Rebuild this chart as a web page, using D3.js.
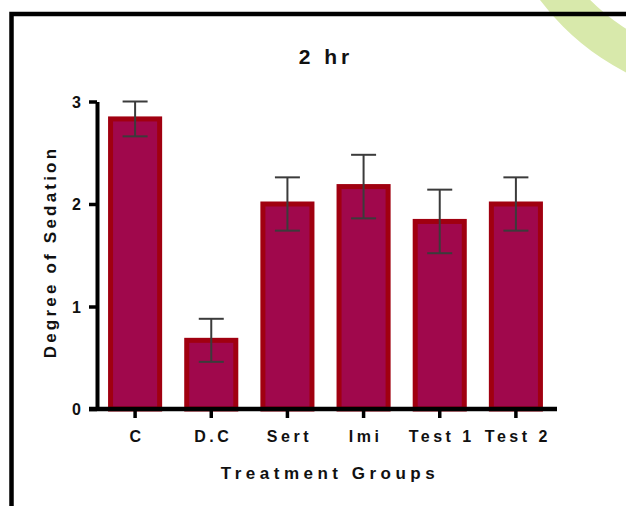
<!DOCTYPE html>
<html>
<head>
<meta charset="utf-8">
<script src="https://cdn.jsdelivr.net/npm/d3@7"></script>
<style>
  html, body { margin: 0; padding: 0; background: #fff; }
  svg { display: block; }
  text { font-family: "Liberation Sans", Arial, Helvetica, sans-serif; font-weight: bold; fill: #111; }
</style>
</head>
<body>
<svg id="chart" width="626" height="506"></svg>
<script>
// Sedation scores (mean ± SEM) two hours after dosing
const groups = ["C", "D.C", "Sert", "Imi", "Test 1", "Test 2"];
const means  = [2.83, 0.67, 2.00, 2.17, 1.83, 2.00];
const errors = [0.17, 0.21, 0.26, 0.31, 0.31, 0.26];
const yTicks = [0, 1, 2, 3];

const svg = d3.select("#chart");

// faint logo arc in the top-right corner
const arc = d3.arc()
  .innerRadius(212).outerRadius(250)
  .startAngle(-Math.PI).endAngle(-Math.PI / 2);
svg.append("path")
  .attr("d", arc())
  .attr("transform", "translate(740,-150)")
  .attr("fill", "#d8e9ab");

// frame around the figure (open on the right and bottom)
svg.append("path")
  .attr("d", "M11.5,506 V14 H626")
  .attr("fill", "none")
  .attr("stroke", "#000")
  .attr("stroke-width", 4.5);

const x = d3.scaleBand()
  .domain(groups)
  .range([95.5, 555.5])
  .paddingInner(0.29)
  .paddingOuter(0.165);

const y = d3.scaleLinear()
  .domain([0, 3])
  .range([409, 101.5]);

// bars
svg.append("g").selectAll("rect")
  .data(groups)
  .join("rect")
  .attr("x", d => x(d) + 2.5)
  .attr("width", x.bandwidth() - 5)
  .attr("y", (d, i) => y(means[i]))
  .attr("height", (d, i) => y(0) - y(means[i]))
  .attr("fill", "#a0084c")
  .attr("stroke", "#a00010")
  .attr("stroke-width", 5);

// error bars
const eb = svg.append("g")
  .attr("stroke", "#3b3b3b")
  .attr("stroke-width", 2)
  .attr("fill", "none");
groups.forEach((g, i) => {
  const cx = x(g) + x.bandwidth() / 2;
  const top = y(means[i] + errors[i]);
  const bot = y(means[i] - errors[i]);
  eb.append("line").attr("x1", cx).attr("x2", cx).attr("y1", top).attr("y2", bot);
  eb.append("line").attr("x1", cx - 12.5).attr("x2", cx + 12.5).attr("y1", top).attr("y2", top);
  eb.append("line").attr("x1", cx - 12.5).attr("x2", cx + 12.5).attr("y1", bot).attr("y2", bot);
});

// y axis
const yAxis = svg.append("g")
  .attr("transform", "translate(97,0)")
  .call(d3.axisLeft(y).tickValues(yTicks).tickFormat(d3.format("d")).tickSize(8).tickSizeOuter(0));
yAxis.select(".domain").attr("stroke", "#000").attr("stroke-width", 4);
yAxis.selectAll(".tick line").attr("stroke", "#000").attr("stroke-width", 3.5);
yAxis.selectAll(".tick text")
  .attr("x", -16)
  .attr("dy", "0.36em")
  .style("font-size", "16px")
  .style("font-family", "'Liberation Sans', Arial, sans-serif")
  .style("font-weight", "bold")
  .attr("fill", "#111");

// x axis
const xAxis = svg.append("g")
  .attr("transform", "translate(0,409)")
  .call(d3.axisBottom(x).tickSize(9).tickSizeOuter(0));
xAxis.select(".domain").attr("d", "M89,0 H557").attr("stroke", "#000").attr("stroke-width", 4.5);
xAxis.selectAll(".tick line").attr("stroke", "#000").attr("stroke-width", 3.5);
xAxis.selectAll(".tick text")
  .attr("y", 22)
  .attr("dx", "2px")
  .attr("dy", "0.71em")
  .style("font-size", "16px")
  .style("font-family", "'Liberation Sans', Arial, sans-serif")
  .style("font-weight", "bold")
  .style("letter-spacing", "3.5px")
  .attr("fill", "#111");

// title
svg.append("text")
  .attr("x", 326)
  .attr("y", 64)
  .attr("text-anchor", "middle")
  .style("font-size", "21px")
  .style("letter-spacing", "4px")
  .text("2 hr");

// axis titles
svg.append("text")
  .attr("x", 330)
  .attr("y", 479)
  .attr("text-anchor", "middle")
  .style("font-size", "17px")
  .style("letter-spacing", "4.5px")
  .text("Treatment Groups");

svg.append("text")
  .attr("transform", "translate(56,252) rotate(-90)")
  .attr("text-anchor", "middle")
  .style("font-size", "17px")
  .style("letter-spacing", "3.2px")
  .text("Degree of Sedation");
</script>
</body>
</html>
